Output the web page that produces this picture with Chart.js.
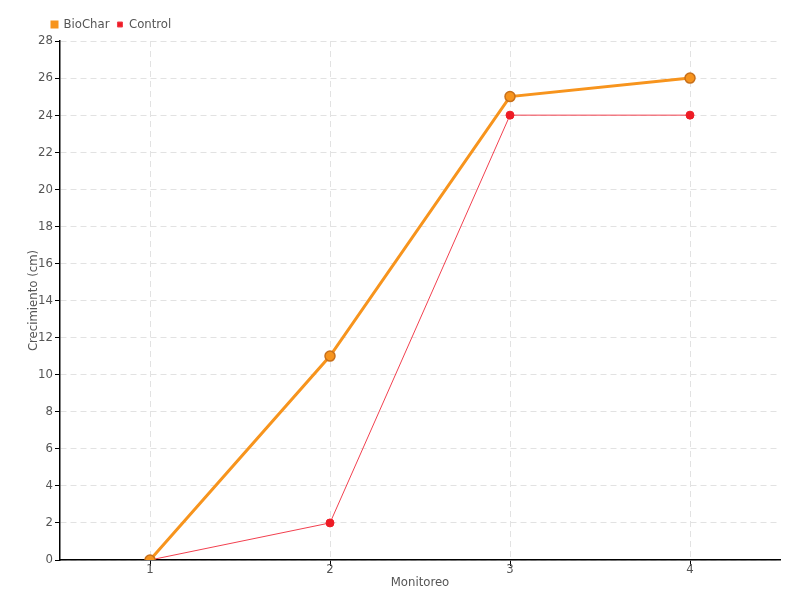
<!DOCTYPE html>
<html>
<head>
<meta charset="utf-8">
<script src="https://cdn.jsdelivr.net/npm/chart.js@4/dist/chart.umd.min.js"></script>
<style>
  html, body { margin: 0; padding: 0; background: #fff; }
  #wrap { width: 800px; height: 600px; }
</style>
</head>
<body>
<div id="wrap"><canvas id="chart"></canvas></div>
<script>
// chart data
const monitoreo = ['1', '2', '3', '4'];
const biochar = [0, 11, 25, 26];
const control = [0, 2, 24, 24];

const fontFamily = '"Liberation Sans Narrow", "DejaVu Sans Condensed", sans-serif';
Chart.defaults.font.family = fontFamily;
Chart.defaults.color = '#555';

// nudge the legend to the right, like the original
const legendShift = {
    id: 'legendShift',
    afterLayout(chart) {
        chart.legend.left += 22;
        chart.legend.right += 22;
    }
};

new Chart(document.getElementById('chart'), {
    type: 'line',
    data: {
        labels: monitoreo,
        datasets: [
            {
                label: 'BioChar',
                data: biochar,
                borderColor: '#f7941d',
                backgroundColor: '#f7941d',
                pointBackgroundColor: '#f7941d',
                pointBorderColor: '#c8701a',
                pointBorderWidth: 1.5,
                pointRadius: 5,
                borderWidth: 3,
                tension: 0
            },
            {
                label: 'Control',
                data: control,
                borderColor: '#f2404f',
                backgroundColor: '#ee1c25',
                pointBackgroundColor: '#ee1c25',
                pointBorderColor: '#ee1c25',
                pointRadius: 4,
                borderWidth: 1,
                tension: 0
            }
        ]
    },
    options: {
        responsive: true,
        maintainAspectRatio: false,
        animation: false,
        layout: { padding: { left: 22, right: 20, top: 10, bottom: 0 } },
        plugins: {
            legend: {
                display: true,
                align: 'start',
                labels: {
                    boxWidth: 5,
                    boxHeight: 5,
                    padding: 8,
                    font: { size: 13 },
                    color: '#555'
                }
            },
            tooltip: { enabled: false }
        },
        scales: {
            x: {
                offset: true,
                afterFit(scale) { scale.height = 40; },
                grid: {
                    offset: false,
                    color: '#e2e2e2',
                    tickColor: '#000',
                    tickLength: 6,
                    tickBorderDash: []
                },
                border: { color: '#000', width: 1.5, dash: [6, 4] },
                ticks: { font: { size: 13 }, color: '#555', padding: -4 },
                title: { display: true, text: 'Monitoreo', font: { size: 13 }, color: '#555', padding: { top: 0, bottom: 10 } }
            },
            y: {
                min: 0,
                max: 28,
                afterFit(scale) { scale.width = 38; },
                grid: {
                    color: '#e2e2e2',
                    tickColor: '#000',
                    tickLength: 5,
                    tickBorderDash: []
                },
                border: { color: '#000', width: 1.5, dash: [6, 4] },
                ticks: { stepSize: 2, font: { size: 13 }, color: '#555', padding: 2 },
                title: { display: true, text: 'Crecimiento (cm)', font: { size: 13 }, color: '#555', padding: { top: 4, bottom: 4 } }
            }
        }
    },
    plugins: [legendShift]
});
</script>
</body>
</html>
